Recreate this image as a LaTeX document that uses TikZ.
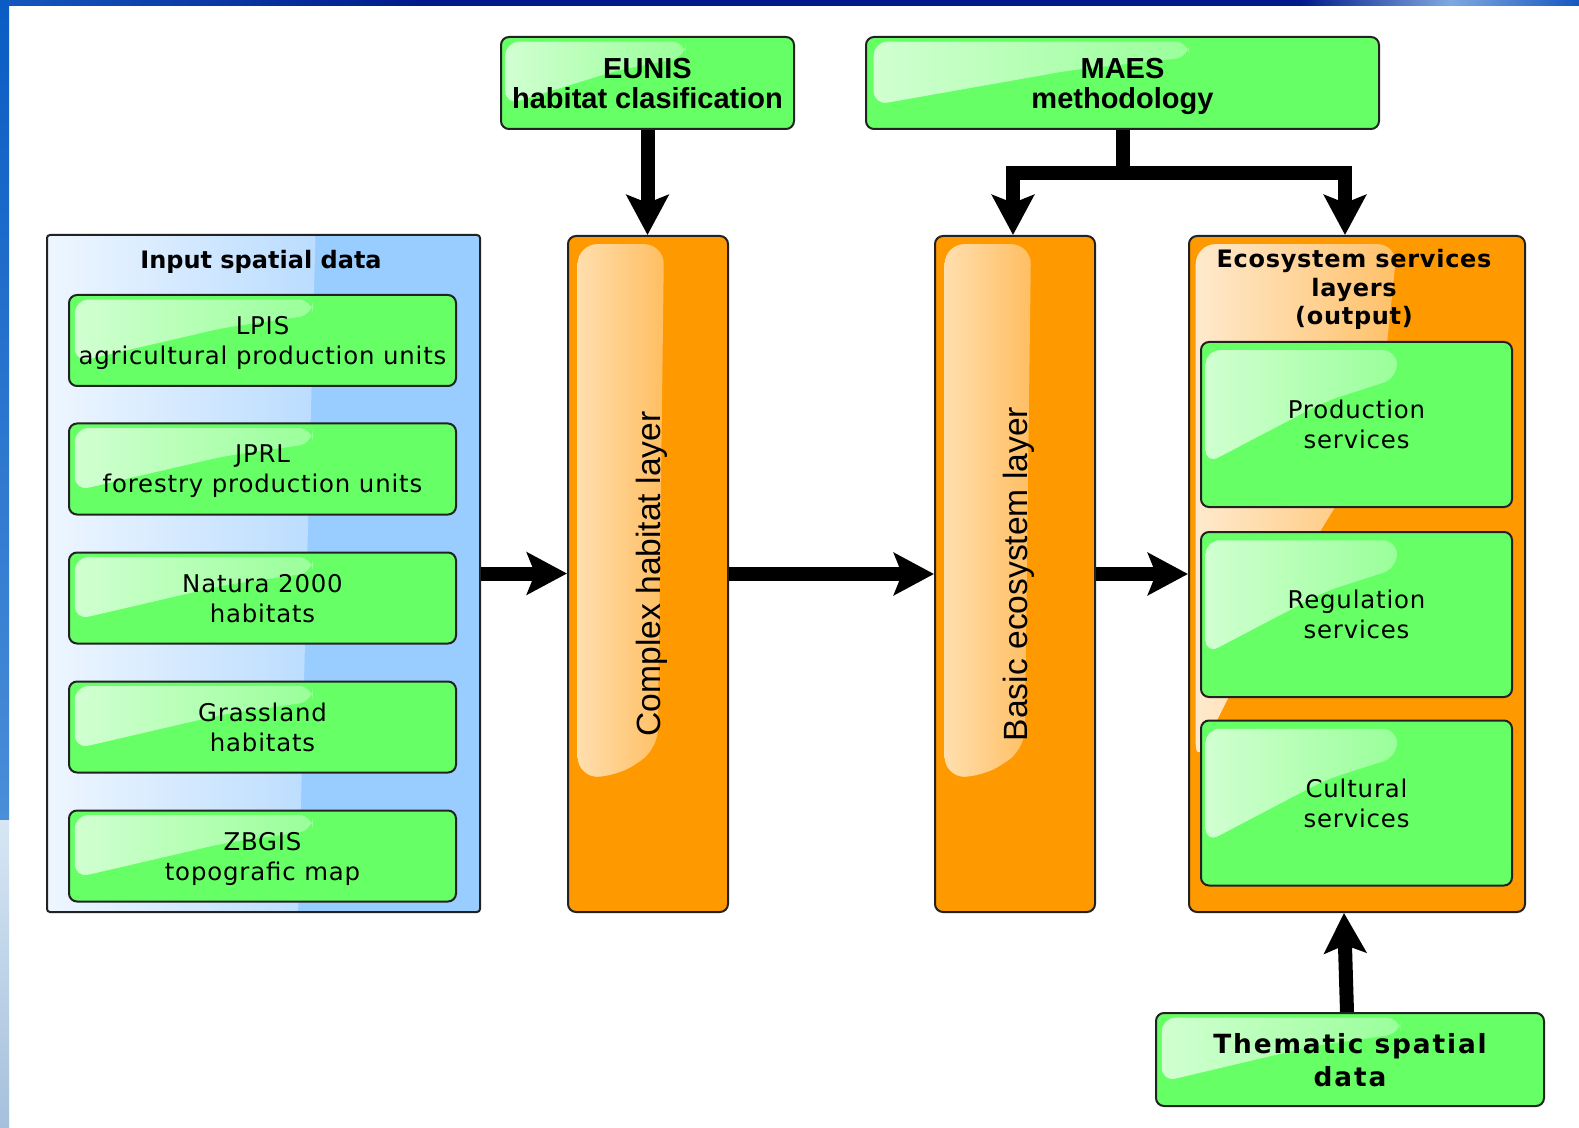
\documentclass[tikz,border=0pt]{standalone}
\usepackage{fontspec}
\usepackage{graphicx}
\setmainfont{DejaVu Sans}
\newfontfamily\boxfont[LetterSpace=3.4]{DejaVu Sans}
\newfontfamily\headfont{DejaVu Sans}
\newfontfamily\ecofont[LetterSpace=3]{DejaVu Sans}
\newfontfamily\thmfont[LetterSpace=7]{DejaVu Sans}
\newfontfamily\arialfont{Liberation Sans}
\usetikzlibrary{arrows.meta,calc}
\definecolor{boxgreen}{HTML}{66FF66}
\definecolor{greenhiL}{HTML}{D2FFD2}
\definecolor{greenhiR}{HTML}{78FF78}
\definecolor{orangebase}{HTML}{FF9900}
\definecolor{orangehiL}{HTML}{FFE2B6}
\definecolor{orangehiR}{HTML}{FFA629}
\definecolor{ecohiL}{HTML}{FFEBD0}
\definecolor{bluebase}{HTML}{99CCFF}
\definecolor{bluehiL}{HTML}{EEF6FF}
\definecolor{bluehiR}{HTML}{9BCDFF}
\definecolor{framecol}{HTML}{222222}
\definecolor{stripA}{HTML}{1558C0}
\definecolor{stripNavy}{HTML}{001A8A}
\definecolor{stripLight}{HTML}{7FA8E0}
\definecolor{leftTop}{HTML}{0A5CC4}
\definecolor{leftMid}{HTML}{4A8ED8}
\definecolor{leftLight}{HTML}{D6E6F4}
\definecolor{leftBot}{HTML}{A6C0DC}
\newcommand\pp[2]{($(path picture bounding box.north west)!#1!(path picture bounding box.north east)+#2*(path picture bounding box.south west)-#2*(path picture bounding box.north west)$)}
\newcommand\vtext[1]{\rotatebox{90}{\raisebox{-1.8pt}[\height][\depth]{#1}}}
\tikzset{
  frame/.style={draw=framecol, line width=1pt, rounded corners=4pt},
  gbox/.style={frame, fill=boxgreen, inner sep=1pt, align=center, text=black, text depth=0pt,
    path picture={\shade[left color=greenhiL, right color=greenhiR, rounded corners=7pt]
      \pp{0.015}{0.05} -- \pp{0.63}{0.05} -- \pp{0.63}{0.22} -- \pp{0.4}{0.36} -- \pp{0.015}{0.74} -- cycle;}},
  inbox/.style={gbox, minimum width=193.5pt, minimum height=45.5pt, font=\boxfont\fontsize{12.2pt}{15pt}\selectfont},
  outbox/.style={gbox, minimum width=155.5pt, minimum height=82.5pt, font=\boxfont\fontsize{12.2pt}{15pt}\selectfont},
  topbox/.style={gbox, minimum height=46pt, font=\arialfont\bfseries\fontsize{14.5pt}{15pt}\selectfont},
  thembox/.style={gbox, minimum width=194pt, minimum height=46.5pt, font=\thmfont\bfseries\fontsize{13.2pt}{16.5pt}\selectfont},
  obar/.style={frame, fill=orangebase, minimum width=80pt, minimum height=338pt, inner sep=0pt,
    font=\arialfont\fontsize{16.8pt}{20pt}\selectfont,
    path picture={\shade[left color=orangehiL, right color=orangehiR, rounded corners=10pt]
      \pp{0.06}{0.012} -- \pp{0.6}{0.012} -- \pp{0.56}{0.76} -- \pp{0.3}{0.8} -- \pp{0.06}{0.8} -- cycle;}},
  ecobox/.style={frame, fill=orangebase, minimum width=168pt, minimum height=338pt,
    path picture={\shade[left color=ecohiL, right color=orangehiR, rounded corners=10pt]
      \pp{0.02}{0.012} -- \pp{0.62}{0.012} -- \pp{0.56}{0.3} -- \pp{0.25}{0.55} -- \pp{0.02}{0.78} -- cycle;}},
  bbox/.style={draw=framecol, line width=1pt, rounded corners=1.5pt, fill=bluebase,
    minimum width=216.5pt, minimum height=338.5pt,
    path picture={\shade[left color=bluehiL, right color=bluehiR]
      \pp{0}{0} -- \pp{0.62}{0} -- \pp{0.58}{1} -- \pp{0}{1} -- cycle;}},
  head/.style={font=\headfont\bfseries\fontsize{12pt}{14.3pt}\selectfont, align=center, inner sep=0pt},
  arr/.style={line width=7pt, -{Stealth[length=20pt,width=21pt,inset=4pt]}},
  barline/.style={line width=7pt},
}
\begin{document}
\begin{tikzpicture}[x=0.5pt,y=-0.5pt]
\useasboundingbox (0,0) rectangle (1579,1128);
\fill[white] (0,0) rectangle (1579,1128);
% slide edges
\shade[left color=stripA, right color=stripNavy] (0,0) rectangle (420,6);
\fill[stripNavy] (420,0) rectangle (1300,6);
\shade[left color=stripNavy, right color=stripLight] (1300,0) rectangle (1450,6);
\shade[left color=stripLight, right color=stripA] (1450,0) rectangle (1579,6);
\shade[top color=leftTop, bottom color=leftMid] (0,0) rectangle (9,820);
\shade[top color=leftLight, bottom color=leftBot] (0,820) rectangle (9,1128);

% input group
\node[bbox] (inputbox) at (263.5,573.5) {};
\node[head] (inputtitle) at (261,262) {Input spatial data};
\node[inbox] (lpis) at (262.5,340.5) {LPIS\\agricultural production units};
\node[inbox] (jprl) at (262.5,469) {JPRL\\forestry production units};
\node[inbox] (natura) at (262.5,598) {Natura 2000\\habitats};
\node[inbox] (grass) at (262.5,727) {Grassland\\habitats};
\node[inbox] (zbgis) at (262.5,856) {ZBGIS\\topografic map};

% top boxes
\node[topbox, minimum width=146.5pt] (eunis) at (647.5,83) {EUNIS\\habitat clasification};
\node[topbox, minimum width=256.5pt] (maes) at (1122.5,83) {MAES\\methodology};

% layers
\node[obar] (complex) at (648,574) {\vtext{Complex habitat layer}};
\node[obar] (basic) at (1015,574) {\vtext{Basic ecosystem layer}};

% ecosystem services
\node[ecobox] (eco) at (1357,574) {};
\node[head, font=\ecofont\bfseries\fontsize{12pt}{14.3pt}\selectfont] (ecotitle) at (1354,289.5) {Ecosystem services\\layers\\(output)};
\node[outbox] (prod) at (1356.5,424.5) {Production\\services};
\node[outbox] (reg) at (1356.5,614.5) {Regulation\\services};
\node[outbox] (cult) at (1356.5,803) {Cultural\\services};

% thematic
\node[thembox] (them) at (1350,1059.5) {Thematic spatial\\data};

% connectors
\coordinate (jn) at (1122.5,173);
\draw[arr] (eunis.south) -- (eunis.south |- complex.north);
\draw[barline] (maes.south) -- (jn);
\draw[arr] (jn) -| ([xshift=-1pt]basic.north);
\draw[arr] (jn) -| ([xshift=-6pt]eco.north);
\draw[arr] (inputbox.east) -- (inputbox.east -| complex.west);
\draw[arr] (complex.east) -- (basic.west);
\draw[arr] (basic.east) -- (basic.east -| eco.west);
\draw[arr] ([xshift=-1.5pt]them.north) -- ([xshift=-6.5pt]eco.south);
\end{tikzpicture}
\end{document}
